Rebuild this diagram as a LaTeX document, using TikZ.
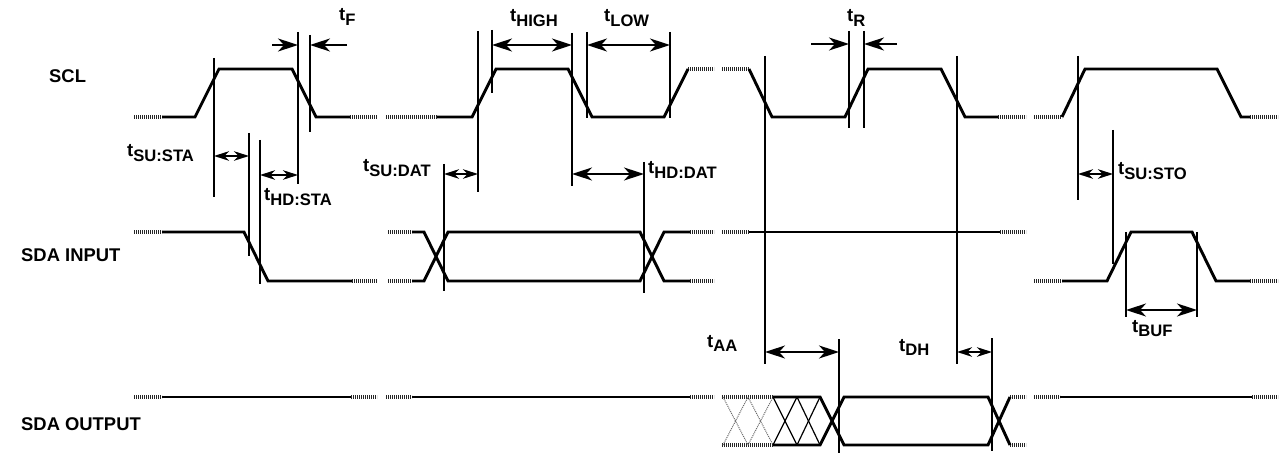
\documentclass[tikz,border=0pt]{standalone}
\usepackage{fontspec}
\setmainfont{Liberation Sans}
\usetikzlibrary{arrows.meta}
\tikzset{
    signal/.style={line width=2.9pt,line join=miter},
    stub/.style={line width=3.2pt,black!85,dash pattern=on 1.2pt off .8pt},
    tick/.style={line width=2pt},
    ghost/.style={line width=1pt,black!60,densely dotted},
    thin cross/.style={line width=1.2pt},
    big dim/.style={line width=1.8pt,{Stealth[length=20pt,width=13pt,inset=6pt]}-{Stealth[length=20pt,width=13pt,inset=6pt]}},
    small dim/.style={line width=1.8pt,{Stealth[length=15pt,width=9.5pt,inset=4.5pt]}-{Stealth[length=15pt,width=9.5pt,inset=4.5pt]}},
    lead/.style={line width=1.8pt,-{Stealth[length=20pt,width=13pt,inset=6pt]}},
    sig name/.style={anchor=base west,inner sep=0pt,font=\fontsize{18.4pt}{20pt}\selectfont\bfseries},
    time name/.style={anchor=base west,inner sep=0pt,font=\fontsize{18.5pt}{20pt}\selectfont\bfseries}
}
\newcommand{\tsub}[1]{t\raisebox{-4.5pt}{\fontsize{16.6pt}{18pt}\selectfont #1}}
\begin{document}
\begin{tikzpicture}[x=1pt,y=-1pt]

    \useasboundingbox (0,0) rectangle (1282,454);

    \node[sig name] (scl name) at (49,83)   {SCL};
    \node[sig name] (in name)  at (21,262)  {SDA INPUT};
    \node[sig name] (out name) at (21,430)  {SDA OUTPUT};

    \foreach \xa/\xb/\ypos in {134/162/117,350/377/117,386/437/117,688/714/69,722/749/69,998/1026/117,1034/1062/117,1250/1278/117,
                               134/162/232,352/377/281,388/412/232,388/412/281,690/714/232,690/714/281,722/749/232,1000/1026/232,
                               1034/1062/281,1250/1278/281,134/162/397,351/377/397,386/412/397,690/714/397,722/773/397,722/773/445,
                               1010/1026/397,1010/1026/445,1034/1060/397,1252/1278/397}
        \draw[stub] (\xa,\ypos) -- (\xb,\ypos);

    \draw[signal] (162,117) -- (195,117) -- (219,69) -- (292,69) -- (316,117) -- (350,117);
    \draw[signal] (437,117) -- (472,117) -- (496,69) -- (568,69) -- (592,117) -- (664,117) -- (688,69);
    \draw[signal] (749,69) -- (772,117) -- (845,117) -- (868,69) -- (941,69) -- (965,117) -- (998,117);
    \draw[signal] (1062,117) -- (1085,69) -- (1217,69) -- (1241,117) -- (1250,117);

    \draw[signal] (162,232) -- (244,232) -- (268,281) -- (352,281);
    \draw[signal] (412,232) -- (424,232) -- (448,281) -- (640,281) -- (664,232) -- (690,232);
    \draw[signal] (412,281) -- (424,281) -- (448,232) -- (640,232) -- (664,281) -- (690,281);
    \draw[signal] (749,232) -- (1000,232);
    \draw[signal] (1062,281) -- (1107,281) -- (1131,232) -- (1192,232) -- (1216,281) -- (1250,281);

    \draw[signal] (162,397) -- (351,397);
    \draw[signal] (412,397) -- (690,397);
    \draw[signal] (773,397) -- (820,397) -- (844,445) -- (988,445) -- (1010,397);
    \draw[signal] (773,445) -- (820,445) -- (844,397) -- (988,397) -- (1010,445);
    \draw[signal] (1060,397) -- (1252,397);

    \foreach \xa/\xb in {723/748,748/773}{
        \draw[ghost] (\xa,397) -- (\xb,445);
        \draw[ghost] (\xa,445) -- (\xb,397);
    }
    \foreach \xa/\xb in {773/797,797/820}{
        \draw[thin cross] (\xa,397) -- (\xb,445);
        \draw[thin cross] (\xa,445) -- (\xb,397);
    }

    \foreach \name/\xpos/\ya/\yb in {susta a/214/58/197,susta b/249/133/256,hdsta a/260/140/284,hdsta b/298/32/184,
                                     tf b/310/35/132,sudat b/478/31/192,sudat a/444/164/291,high a/492/30/93,
                                     high b/572/33/186,low a/587/32/118,low b/670/32/118,hddat b/644/162/293,
                                     aa a/765/56/364,aa b/839/339/453,tr a/849/31/128,tr b/864/31/128,
                                     dh a/957/56/364,dh b/992/338/451,susto a/1078/56/200,susto b/1113/130/264,
                                     buf a/1126/232/317,buf b/1197/232/317}{
        \coordinate (\name-top) at (\xpos,\ya);
        \coordinate (\name-end) at (\xpos,\yb);
        \draw[tick] (\name-top) -- (\name-end);
    }

    \coordinate (tf from)  at (272,45);
    \coordinate (tf back)  at (347,45);
    \coordinate (tr from)  at (811,44);
    \coordinate (tr back)  at (897,44);

    \draw[lead] (tf from) -- (hdsta b-top |- tf from);
    \draw[lead] (tf back) -- (tf b-top |- tf back);
    \draw[lead] (tr from) -- (tr a-top |- tr from);
    \draw[lead] (tr back) -- (tr b-top |- tr back);

    \draw[big dim] (high a-top |- 0,45) -- (high b-top |- 0,45);
    \draw[big dim] (low a-top |- 0,45) -- (low b-top |- 0,45);
    \draw[big dim] (high b-top |- 0,174) -- (hddat b-top |- 0,174);
    \draw[big dim] (buf a-top |- 0,310) -- (buf b-top |- 0,310);
    \draw[big dim] (aa a-top |- 0,352) -- (aa b-top |- 0,352);
    \draw[small dim] (susta a-top |- 0,156) -- (susta b-top |- 0,156);
    \draw[small dim] (hdsta a-top |- 0,175) -- (hdsta b-top |- 0,175);
    \draw[small dim] (sudat a-top |- 0,174) -- (sudat b-top |- 0,174);
    \draw[small dim] (susto a-top |- 0,174) -- (susto b-top |- 0,174);
    \draw[small dim] (dh a-top |- 0,352) -- (dh b-top |- 0,352);

    \node[time name] (tf name)    at (339,21)  {\tsub{F}};
    \node[time name] (high name)  at (510,22)  {\tsub{HIGH}};
    \node[time name] (low name)   at (604,22)  {\tsub{LOW}};
    \node[time name] (tr name)    at (847,22)  {\tsub{R}};
    \node[time name] (susta name) at (127,157) {\tsub{SU:STA}};
    \node[time name] (hdsta name) at (264,201) {\tsub{HD:STA}};
    \node[time name] (sudat name) at (363,172) {\tsub{SU:DAT}};
    \node[time name] (hddat name) at (648,174) {\tsub{HD:DAT}};
    \node[time name] (susto name) at (1118,175) {\tsub{SU:STO}};
    \node[time name] (buf name)   at (1132,332) {\tsub{BUF}};
    \node[time name] (aa name)    at (707,347) {\tsub{AA}};
    \node[time name] (dh name)    at (899,351) {\tsub{DH}};

\end{tikzpicture}
\end{document}
